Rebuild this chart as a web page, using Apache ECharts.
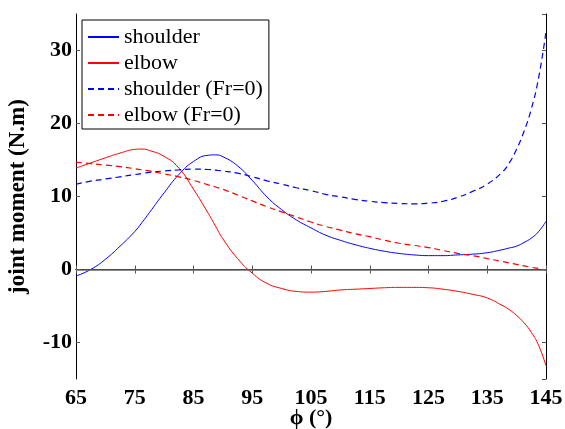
<!DOCTYPE html>
<html>
<head>
<meta charset="utf-8">
<script src="https://cdn.jsdelivr.net/npm/echarts@6/dist/echarts.min.js"></script>
<style>
html,body{margin:0;padding:0;background:#fff;}
#c{width:565px;height:429px;}
</style>
</head>
<body>
<div id="c"></div>
<script>
const phi = [65,67.5,70,72.5,75,76.25,77.5,80,82.5,85,87.5,88.75,90,92.5,95,97.5,100,102.5,105,107.5,110,112.5,115,117.5,120,122.5,125,127.5,130,132.5,135,137.5,138.75,140,141.25,142.5,143.75,145];
const shoulder = [-0.9,0.0,1.4,3.2,5.2,6.45,7.8,10.5,13.0,14.8,15.65,15.7,15.45,14.2,12.2,9.95,8.2,6.8,5.7,4.7,4.0,3.4,2.9,2.5,2.2,2.0,1.9,1.9,2.0,2.1,2.3,2.7,2.95,3.2,3.7,4.3,5.2,6.6];
const elbow = [13.9,14.6,15.3,15.95,16.45,16.5,16.3,15.5,13.9,11.0,7.7,5.95,4.2,1.5,-0.5,-1.9,-2.6,-3.0,-3.1,-3.0,-2.8,-2.7,-2.6,-2.5,-2.45,-2.45,-2.5,-2.7,-3.0,-3.4,-3.9,-4.9,-5.5,-6.3,-7.3,-8.6,-10.4,-13.2];
const shoulderFr0 = [11.7,12.1,12.4,12.7,13.0,13.15,13.3,13.5,13.65,13.75,13.7,13.6,13.5,13.2,12.7,12.15,11.7,11.2,10.8,10.3,9.95,9.6,9.35,9.15,9.05,9.0,9.1,9.35,9.9,10.7,11.7,13.3,14.6,16.5,18.9,22.0,26.3,32.6];
const elbowFr0 = [14.7,14.5,14.3,14.1,13.8,13.65,13.5,13.1,12.7,12.2,11.6,11.3,11.0,10.2,9.4,8.6,7.9,7.2,6.5,5.9,5.4,4.9,4.5,4.0,3.6,3.3,3.0,2.6,2.2,1.9,1.5,1.1,0.9,0.7,0.5,0.3,0.15,-0.1];
const seriesNames = ['shoulder','elbow','shoulder (Fr=0)','elbow (Fr=0)'];
const xTitle = 'ϕ (°)';
const yTitle = 'joint moment (N.m)';

const pairs = arr => phi.map((x,i)=>[x,arr[i]]);
const font = 'Liberation Serif, Times New Roman, serif';
const tickStyle = {show:true, inside:true, length:4, lineStyle:{color:'#555', width:1}};
const lineAxis = {lineStyle:{color:'#000', width:1}};
const smoothVal = 0.5;

const chart = echarts.init(document.getElementById('c'), null, {renderer:'canvas'});
chart.setOption({
  animation:false,
  backgroundColor:'#fff',
  grid:{left:76, right:19, top:14, bottom:50, containLabel:false, outerBoundsMode:'none'},
  legend:{
    data:seriesNames,
    orient:'vertical',
    left:82, top:20,
    itemWidth:31, itemHeight:14, itemGap:4, itemTextGap:4,
    padding:[6,6,3,5],
    borderColor:'#000', borderWidth:1, backgroundColor:'#fff',
    itemStyle:{opacity:0},
    textStyle:{fontFamily:font, fontSize:22, color:'#000', lineHeight:22},
    selectedMode:false
  },
  xAxis:[{
    type:'value', min:65, max:145, interval:10,
    axisLine:lineAxis, axisTick:tickStyle, splitLine:{show:false},
    axisLabel:{fontFamily:font, fontSize:22, fontWeight:'bold', color:'#000', margin:8},
    name:xTitle, nameLocation:'middle', nameGap:28, nameMoveOverlap:false,
    nameTextStyle:{fontFamily:font, fontSize:22, fontWeight:'bold', color:'#000'}
  },{
    type:'value', min:65, max:145, interval:10, position:'top',
    axisLine:lineAxis, axisTick:tickStyle, axisLabel:{show:false}, splitLine:{show:false}
  }],
  yAxis:[{
    type:'value', min:-15, max:35, splitNumber:5,
    axisLine:lineAxis, axisTick:tickStyle, splitLine:{show:false},
    axisLabel:{fontFamily:font, fontSize:22, fontWeight:'bold', color:'#000', margin:4, showMinLabel:false, showMaxLabel:false},
    name:yTitle, nameLocation:'middle', nameGap:46,
    nameTextStyle:{fontFamily:font, fontSize:23, fontWeight:'bold', color:'#000'}
  },{
    type:'value', min:-15, max:35, splitNumber:5, position:'right',
    axisLine:lineAxis, axisTick:tickStyle, axisLabel:{show:false}, splitLine:{show:false}
  }],
  series:[
    {name:seriesNames[0], type:'line', data:pairs(shoulder), symbol:'none', smooth:smoothVal,
     lineStyle:{color:'#0000ff', width:1}, itemStyle:{color:'#0000ff'}, z:3,
     markLine:{silent:true, symbol:'none', label:{show:false},
       lineStyle:{color:'#666', width:1.6, type:'solid'}, data:[{yAxis:0}]}},
    {name:seriesNames[1], type:'line', data:pairs(elbow), symbol:'none', smooth:smoothVal,
     lineStyle:{color:'#ff0000', width:1}, itemStyle:{color:'#ff0000'}, z:3},
    {name:seriesNames[2], type:'line', data:pairs(shoulderFr0), symbol:'none', smooth:smoothVal,
     lineStyle:{color:'#0000ff', width:1.2, type:[6,4]}, itemStyle:{color:'#0000ff'}, z:3},
    {name:seriesNames[3], type:'line', data:pairs(elbowFr0), symbol:'none', smooth:smoothVal,
     lineStyle:{color:'#ff0000', width:1.2, type:[6,4]}, itemStyle:{color:'#ff0000'}, z:3}
  ]
});
</script>
</body>
</html>
